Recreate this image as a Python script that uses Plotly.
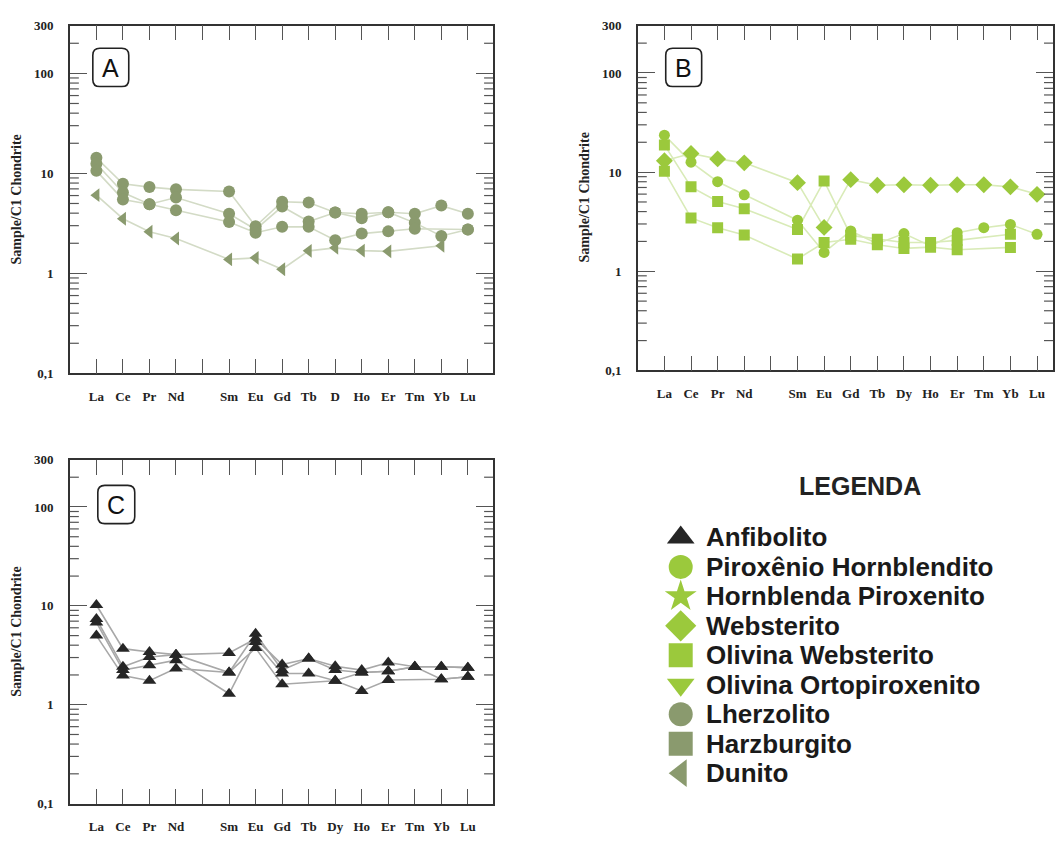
import math
import plotly.graph_objects as go

W, H = 1055, 844

# ---------------- data ----------------
elements_A = ["La", "Ce", "Pr", "Nd", "", "Sm", "Eu", "Gd", "Tb", "D", "Ho", "Er", "Tm", "Yb", "Lu"]
elements_BC = ["La", "Ce", "Pr", "Nd", "", "Sm", "Eu", "Gd", "Tb", "Dy", "Ho", "Er", "Tm", "Yb", "Lu"]
positions = list(range(len(elements_A)))

# Panel A (order: La Ce Pr Nd Pm Sm Eu Gd Tb Dy Ho Er Tm Yb Lu; Pm not analysed)
lherzolito_1 = [14.3, 7.87, 7.29, 6.92, None, 6.58, 2.96, 5.21, 5.10, 4.06, 3.95, 4.09, 3.95, 4.76, 3.95]
lherzolito_2 = [12.5, 6.43, 4.91, 5.74, None, 3.95, 2.75, 4.66, 3.30, 4.06, 3.55, 4.09, 3.20, 2.37, 2.75]
lherzolito_3 = [10.6, 5.49, 4.91, 4.28, None, 3.27, 2.55, 2.92, 2.92, 2.15, 2.50, 2.63, 2.79, None, 2.75]
dunito_1 = [6.05, 3.52, 2.61, 2.23, None, 1.38, 1.43, 1.10, 1.68, 1.80, 1.69, 1.66, None, 1.89, None]

# Panel B
websterito_1 = [13.0, 15.4, 13.6, 12.4, None, 7.83, 2.77, 8.4, 7.38, 7.45, 7.38, 7.45, 7.45, 7.1, 5.97]
pirox_hornbl_1 = [23.6, 12.6, 8.0, 5.9, None, 3.27, 1.55, 2.55, 1.9, 2.4, 1.8, 2.45, 2.75, 2.97, 2.36]
ol_websterito_1 = [18.8, 7.1, 5.05, 4.27, None, 2.64, 8.15, 2.3, 2.1, 1.95, 1.95, 2.05, None, 2.36, None]
ol_websterito_2 = [10.2, 3.45, 2.75, 2.32, None, 1.33, 1.95, 2.1, 1.85, 1.7, 1.75, 1.65, None, 1.74, None]

# Panel C
anfibolito_1 = [10.2, 3.69, 3.41, 3.21, None, 3.34, 4.64, 2.55, 2.93, 2.45, 2.24, 2.67, 2.42, 2.42, 2.37]
anfibolito_2 = [7.36, 2.42, 3.04, 3.21, None, 2.12, 5.21, 2.24, 2.93, 2.24, 2.12, 2.18, 2.42, 1.81, 1.92]
anfibolito_3 = [6.8, 2.24, 2.51, 2.82, None, 1.29, 4.30, 2.07, 2.07, 1.75, 2.12, 2.18, 2.42, 2.42, 2.37]
anfibolito_4 = [5.0, 1.97, 1.75, 2.33, None, 2.12, 3.74, 1.61, None, 1.75, 1.38, 1.78, None, 1.81, 1.92]

y_tickvals = [0.1, 1, 10, 100, 300]
y_ticktext = ["0,1", "1", "10", "100", "300"]
y_minor_tickvals = [0.2, 0.3, 0.4, 0.5, 0.6, 0.7, 0.8, 0.9,
                    2, 3, 4, 5, 6, 7, 8, 9,
                    20, 30, 40, 50, 60, 70, 80, 90, 200]

legend_names = ["Anfibolito", "Piroxênio Hornblendito", "Hornblenda Piroxenito", "Websterito",
                "Olivina Websterito", "Olivina Ortopiroxenito", "Lherzolito", "Harzburgito", "Dunito"]
legend_symbols = ["triangle-up", "circle", "star", "diamond", "square", "triangle-down",
                  "circle", "square", "triangle-left"]

# ---------------- style ----------------
OLIVE = "#8a9a6e"
OLIVE_LINE = "#d3dbc6"
GREEN = "#9bc93c"
GREEN_LINE = "#d9ebb8"
DARK = "#262626"
GRAY_LINE = "#a8a8a8"
legend_colors = [DARK, GREEN, GREEN, GREEN, GREEN, GREEN, OLIVE, OLIVE, OLIVE]
Y_RANGE = [-1, math.log10(300)]


def px(x):
    return x / W


def py(y):
    return 1 - y / H


panelA = [(lherzolito_1, "circle", OLIVE, OLIVE_LINE, 12),
          (lherzolito_2, "circle", OLIVE, OLIVE_LINE, 12),
          (lherzolito_3, "circle", OLIVE, OLIVE_LINE, 12),
          (dunito_1, "triangle-left", OLIVE, OLIVE_LINE, 12)]
panelB = [(websterito_1, "diamond", GREEN, GREEN_LINE, 13),
          (pirox_hornbl_1, "circle", GREEN, GREEN_LINE, 11),
          (ol_websterito_1, "square", GREEN, GREEN_LINE, 11),
          (ol_websterito_2, "square", GREEN, GREEN_LINE, 11)]
panelC = [(anfibolito_1, "triangle-up", DARK, GRAY_LINE, 12),
          (anfibolito_2, "triangle-up", DARK, GRAY_LINE, 12),
          (anfibolito_3, "triangle-up", DARK, GRAY_LINE, 12),
          (anfibolito_4, "triangle-up", DARK, GRAY_LINE, 12)]

fig = go.Figure()

for series, (xa, ya) in [(panelA, ("x", "y")), (panelB, ("x2", "y2")), (panelC, ("x3", "y3"))]:
    for vals, sym, mc, lc, ms in series:
        fig.add_trace(go.Scatter(x=positions, y=vals, mode="lines", connectgaps=True,
                                 line=dict(color=lc, width=1.6), xaxis=xa, yaxis=ya,
                                 showlegend=False, hoverinfo="skip"))
    for vals, sym, mc, lc, ms in series:
        fig.add_trace(go.Scatter(x=positions, y=vals, mode="markers",
                                 marker=dict(symbol=sym, color=mc, size=ms, line=dict(width=0)),
                                 xaxis=xa, yaxis=ya, showlegend=False))

# legend markers on hidden axis
fig.add_trace(go.Scatter(x=[0] * len(legend_names), y=list(range(len(legend_names))), mode="markers",
                         marker=dict(symbol=legend_symbols, color=legend_colors, size=24,
                                     line=dict(width=0)),
                         xaxis="x4", yaxis="y4", showlegend=False, hoverinfo="skip"))

tickfont = dict(family="Liberation Serif", size=13, color="#222", weight="bold")


def xaxis_cfg(dom, rng, labels, anchor):
    return dict(domain=dom, range=rng, anchor=anchor, tickmode="array", tickvals=positions,
                ticktext=labels, ticks="inside", ticklen=15, tickwidth=1.2, tickcolor="#555",
                mirror="ticks", showline=True, linecolor="#333", linewidth=1.6, showgrid=False,
                zeroline=False, tickfont=tickfont, ticklabelstandoff=10, fixedrange=True)


def yaxis_cfg(dom, anchor):
    return dict(domain=dom, type="log", range=Y_RANGE, anchor=anchor, tickmode="array",
                tickvals=y_tickvals, ticktext=y_ticktext, ticks="inside", ticklen=17, tickwidth=1.2,
                tickcolor="#555", mirror="ticks", showline=True, linecolor="#333", linewidth=1.6,
                showgrid=False, zeroline=False, tickfont=tickfont, ticklabelstandoff=12,
                fixedrange=True)


# panel frames in pixels: (left, right, top, bottom)
frames = {"A": (70, 494, 19, 373), "B": (639, 1055, 19, 370), "C": (70, 494, 461, 811)}

fig.update_layout(
    width=W, height=H, margin=dict(l=0, r=0, t=0, b=0),
    paper_bgcolor="white", plot_bgcolor="white", showlegend=False,
    xaxis=xaxis_cfg([px(70), px(494)], [-1.0, 14.95], elements_A, "y"),
    yaxis=yaxis_cfg([py(373), py(19)], "x"),
    xaxis2=xaxis_cfg([px(639), 1.0], [-1.0, 14.6], elements_BC, "y2"),
    yaxis2=yaxis_cfg([py(370), py(19)], "x2"),
    xaxis3=xaxis_cfg([px(70), px(494)], [-1.0, 14.95], elements_BC, "y3"),
    yaxis3=yaxis_cfg([py(811), py(461)], "x3"),
    xaxis4=dict(domain=[px(660), px(704)], range=[-1, 1], visible=False, fixedrange=True, anchor="y4"),
    yaxis4=dict(domain=[py(800), py(520)], range=[8.667, -0.667], visible=False, fixedrange=True,
                anchor="x4"),
)

shapes = []
# minor y ticks (inside, both sides), placed along each panel's log scale
MINOR_LEN = 9
for key, (l, r, t, b) in frames.items():
    for v in y_minor_tickvals:
        frac = (math.log10(v) - Y_RANGE[0]) / (Y_RANGE[1] - Y_RANGE[0])
        yp = b - frac * (b - t)
        for xa, xb in ((l, l + MINOR_LEN), (r - MINOR_LEN, r)):
            shapes.append(dict(type="line", xref="paper", yref="paper", x0=px(xa), x1=px(xb),
                               y0=py(yp), y1=py(yp), line=dict(color="#555", width=1.2)))

annotations = []
# y axis titles
for xc, yc in [(17, 196), (586, 194), (17, 636)]:
    annotations.append(dict(x=px(xc), y=py(yc), xref="paper", yref="paper", text="Sample/C1 Chondrite",
                            textangle=-90, showarrow=False, xanchor="center", yanchor="middle",
                            font=dict(family="Liberation Serif", size=14, color="#222", weight="bold")))


def rounded(x0, y0, x1, y1, r):
    X0, X1 = px(x0), px(x1)
    Y0, Y1 = py(y0), py(y1)
    rx, ry = r / W, r / H
    return (f"M {X0 + rx},{Y0} L {X1 - rx},{Y0} Q {X1},{Y0} {X1},{Y0 - ry} "
            f"L {X1},{Y1 + ry} Q {X1},{Y1} {X1 - rx},{Y1} L {X0 + rx},{Y1} "
            f"Q {X0},{Y1} {X0},{Y1 + ry} L {X0},{Y0 - ry} Q {X0},{Y0} {X0 + rx},{Y0} Z")


for lab, (x0, y0, x1, y1) in [("A", (93, 42, 129, 81)), ("B", (667, 42, 703, 81)), ("C", (98, 487, 135, 526))]:
    shapes.append(dict(type="path", path=rounded(x0, y0, x1, y1, 7), xref="paper", yref="paper",
                       line=dict(color="#222", width=1.6), fillcolor="white"))
    annotations.append(dict(x=px((x0 + x1) / 2), y=py((y0 + y1) / 2 + 1), xref="paper", yref="paper",
                            text=lab, showarrow=False, xanchor="center", yanchor="middle",
                            font=dict(family="Liberation Sans", size=25, color="#111")))

# legend
annotations.append(dict(x=px(862), y=py(488), xref="paper", yref="paper", text="<b>LEGENDA</b>",
                        showarrow=False, xanchor="center", yanchor="middle",
                        font=dict(family="Liberation Sans", size=25, color="#222")))
for i, name in enumerate(legend_names):
    annotations.append(dict(x=px(705), y=i, xref="paper", yref="y4", text=f"<b>{name}</b>",
                            showarrow=False, xanchor="left", yanchor="middle",
                            font=dict(family="Liberation Sans", size=26, color="#1a1a1a")))

fig.update_layout(annotations=annotations, shapes=shapes)

fig.write_html("out.html")
